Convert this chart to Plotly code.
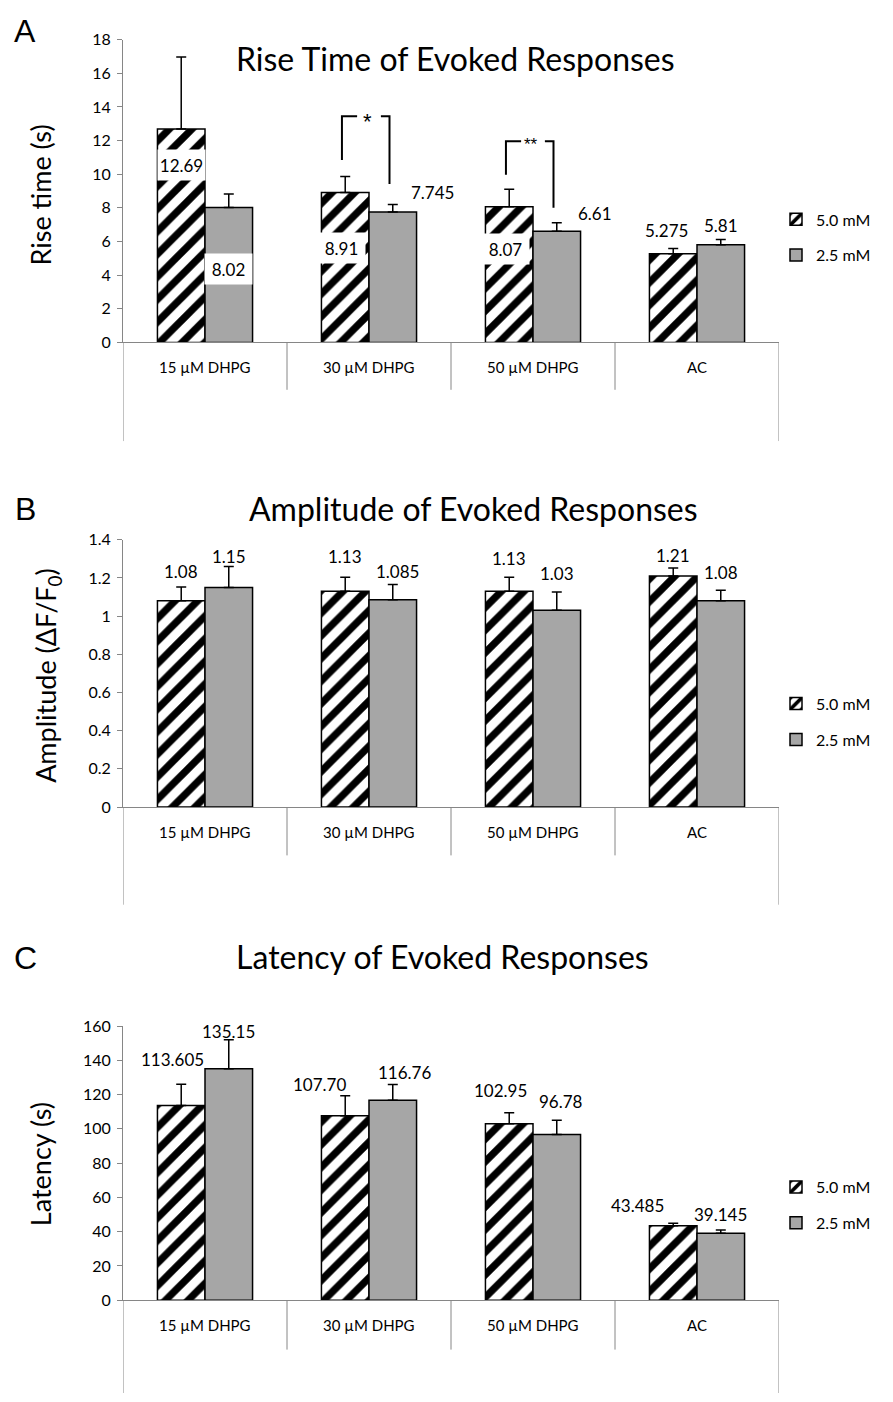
import plotly.graph_objects as go

# ---------------- data ----------------
categories = ["15 µM DHPG", "30 µM DHPG", "50 µM DHPG", "AC"]
series_names = ["5.0 mM", "2.5 mM"]

rise_50 = [12.69, 8.91, 8.07, 5.275]
rise_25 = [8.02, 7.745, 6.61, 5.81]
rise_err_50 = [4.28, 0.95, 1.03, 0.31]
rise_err_25 = [0.80, 0.45, 0.51, 0.31]
rise_text_50 = ["12.69", "8.91", "8.07", "5.275"]
rise_text_25 = ["8.02", "7.745", "6.61", "5.81"]

amp_50 = [1.08, 1.13, 1.13, 1.21]
amp_25 = [1.15, 1.085, 1.03, 1.08]
amp_err_50 = [0.072, 0.073, 0.073, 0.042]
amp_err_25 = [0.11, 0.08, 0.096, 0.056]
amp_text_50 = ["1.08", "1.13", "1.13", "1.21"]
amp_text_25 = ["1.15", "1.085", "1.03", "1.08"]

lat_50 = [113.605, 107.70, 102.95, 43.485]
lat_25 = [135.15, 116.76, 96.78, 39.145]
lat_err_50 = [12.5, 11.6, 6.5, 1.4]
lat_err_25 = [16.8, 9.2, 8.3, 1.9]
lat_text_50 = ["113.605", "107.70", "102.95", "43.485"]
lat_text_25 = ["135.15", "116.76", "96.78", "39.145"]

# significance markers on the rise-time panel: (category index, marker)
rise_sig = [(1, "*"), (2, "**")]

# ---------------- page geometry / style ----------------
W, H = 893, 1402
FONT = "Lato"
BAR_GRAY = "#A6A6A6"
AXIS_GRAY = "#868686"
BARGAP = 0.42
OFF = (1 - BARGAP) / 4          # bar centre offset from the category centre
X_LEFT, X_RIGHT = 123, 779


def fx(p):
    return p / W


def fy(p):
    return 1 - p / H


panels = [
    dict(letter="A", title="Rise Time of Evoked Responses", title_xy=(455, 49),
         ytitle="Rise time (s)", ytitle_xy=(40, 188),
         v50=rise_50, v25=rise_25, e50=rise_err_50, e25=rise_err_25,
         t50=rise_text_50, t25=rise_text_25,
         ymax=18, dtick=2, top=30, zero=337, box_mid=385, box_end=437,
         letter_y=21, legend_top=195,
         # label placement (px): shift relative to the bar top / bar centre
         dy50=[-36, -55, -42, 23], dy25=[-61, 20, 18, 19],
         dx50=[0, -4, -4, -7], dx25=[0, 40, 38, 0],
         boxed50=[True, True, True, False], boxed25=[True, False, False, False]),
    dict(letter="B", title="Amplitude of Evoked Responses", title_xy=(473, 505),
         ytitle="Amplitude (ΔF/F<sub>0</sub>)", ytitle_xy=(48, 675),
         v50=amp_50, v25=amp_25, e50=amp_err_50, e25=amp_err_25,
         t50=amp_text_50, t25=amp_text_25,
         ymax=1.4, dtick=0.2, top=537, zero=808, box_mid=857, box_end=907,
         letter_y=506, legend_top=686,
         dy50=[29, 35, 33, 21], dy25=[31, 28, 37, 28],
         dx50=[0, 0, 0, 0], dx25=[0, 5, 0, 0],
         boxed50=[False] * 4, boxed25=[False] * 4),
    dict(letter="C", title="Latency of Evoked Responses", title_xy=(442, 960),
         ytitle="Latency (s)", ytitle_xy=(40, 1170),
         v50=lat_50, v25=lat_25, e50=lat_err_50, e25=lat_err_25,
         t50=lat_text_50, t25=lat_text_25,
         ymax=160, dtick=20, top=1030, zero=1308, box_mid=1358, box_end=1402,
         letter_y=961, legend_top=1176,
         dy50=[46, 31, 33, 20], dy25=[37, 28, 33, 19],
         dx50=[-9, -26, -9, -36], dx25=[0, 12, 4, 0],
         boxed50=[False] * 4, boxed25=[False] * 4),
]

fig = go.Figure()
annotations = []
shapes = []
layout_axes = {}

for k, p in enumerate(panels):
    sfx = "" if k == 0 else str(k + 1)
    xref, yref = "x" + sfx, "y" + sfx
    legend_name = "legend" + sfx

    fig.add_trace(go.Bar(
        x=categories, y=p["v50"], name=series_names[0],
        xaxis=xref, yaxis=yref, legend=legend_name, legendgroup=f"a{k}",
        marker=dict(color="white", line=dict(color="black", width=1.5),
                    pattern=dict(shape="/", fgcolor="black", bgcolor="white",
                                 fgopacity=1, fillmode="replace",
                                 size=16, solidity=0.45)),
        error_y=dict(type="data", symmetric=False, array=p["e50"],
                     arrayminus=[0] * len(p["e50"]), color="black",
                     thickness=1.5, width=5),
        hoverinfo="skip",
    ))
    fig.add_trace(go.Bar(
        x=categories, y=p["v25"], name=series_names[1],
        xaxis=xref, yaxis=yref, legend=legend_name, legendgroup=f"b{k}",
        marker=dict(color=BAR_GRAY, line=dict(color="black", width=1.5)),
        error_y=dict(type="data", symmetric=False, array=p["e25"],
                     arrayminus=[0] * len(p["e25"]), color="black",
                     thickness=1.5, width=5),
        hoverinfo="skip",
    ))

    dom_x = [fx(X_LEFT), fx(X_RIGHT)]
    dom_y = [fy(p["zero"]), fy(p["top"])]
    layout_axes["xaxis" + sfx] = dict(
        domain=dom_x, range=[-0.5, len(categories) - 0.5], anchor=yref,
        showticklabels=False, ticks="", showline=True, linecolor=AXIS_GRAY,
        linewidth=1, showgrid=False, zeroline=False, fixedrange=True)
    layout_axes["yaxis" + sfx] = dict(
        domain=dom_y, range=[0, p["ymax"]], dtick=p["dtick"], anchor=xref,
        showline=True, linecolor=AXIS_GRAY, linewidth=1, ticks="outside",
        ticklen=5, tickcolor=AXIS_GRAY, ticklabelstandoff=3,
        tickfont=dict(family=FONT, size=16, color="black"),
        showgrid=False, zeroline=False, fixedrange=True)
    layout_axes[legend_name] = dict(
        x=fx(776), y=fy(p["legend_top"]), xanchor="left", yanchor="top",
        font=dict(family=FONT, size=16, color="black"), bgcolor="rgba(0,0,0,0)",
        tracegroupgap=12, traceorder="grouped", itemwidth=30)

    # category label box under the axis
    n = len(categories)
    for b in range(n + 1):
        outer = b in (0, n)
        shapes.append(dict(type="line", xref=xref, yref="paper",
                           x0=b - 0.5, x1=b - 0.5,
                           y0=fy(p["zero"]), y1=fy(p["box_end"] if outer else p["box_mid"]),
                           line=dict(color=AXIS_GRAY, width=1)))
    for i, c in enumerate(categories):
        annotations.append(dict(x=i, y=fy(p["zero"] + 25), xref=xref, yref="paper",
                                text=c, showarrow=False, yanchor="middle",
                                font=dict(family=FONT, size=15, color="black")))

    # value labels
    for vals, texts, dys, dxs, boxed, sign in (
            (p["v50"], p["t50"], p["dy50"], p["dx50"], p["boxed50"], -1),
            (p["v25"], p["t25"], p["dy25"], p["dx25"], p["boxed25"], 1)):
        for i, (v, t, dy, dx, bx) in enumerate(zip(vals, texts, dys, dxs, boxed)):
            ann = dict(x=i + sign * OFF, y=v, xref=xref, yref=yref, text=t,
                       showarrow=False, yanchor="middle", xshift=dx, yshift=dy,
                       font=dict(family=FONT, size=17, color="black"))
            if bx:
                ann.update(bgcolor="white", width=45, height=28, borderpad=1)
            annotations.append(ann)

    # titles and panel letters
    annotations.append(dict(x=fx(p["title_xy"][0]), y=fy(p["title_xy"][1]),
                            xref="paper", yref="paper", text=p["title"], showarrow=False,
                            xanchor="center", yanchor="middle",
                            font=dict(family=FONT, size=32, color="black")))
    annotations.append(dict(x=fx(p["ytitle_xy"][0]), y=fy(p["ytitle_xy"][1]),
                            xref="paper", yref="paper", text=p["ytitle"], showarrow=False,
                            textangle=-90, xanchor="center", yanchor="middle",
                            font=dict(family=FONT, size=27, color="black")))
    annotations.append(dict(x=fx(25), y=fy(p["letter_y"]), xref="paper", yref="paper",
                            text=p["letter"], showarrow=False, xanchor="center",
                            yanchor="middle",
                            font=dict(family="Liberation Sans", size=32, color="black")))

# significance brackets on the rise-time panel (data units)
bracket_geom = {1: dict(top=13.45, left_low=10.84, right_low=9.41),
                2: dict(top=11.96, left_low=9.96, right_low=8.0)}
for idx, mark in rise_sig:
    g = bracket_geom[idx]
    xl, xr = idx - OFF, idx + OFF
    span = xr - xl
    line = dict(color="black", width=2)
    shapes.append(dict(type="path", xref="x", yref="y", line=line,
                       path=f"M {xl - 0.02},{g['left_low']} L {xl - 0.02},{g['top']} "
                            f"L {xl + 0.25 * span},{g['top']}"))
    shapes.append(dict(type="path", xref="x", yref="y", line=line,
                       path=f"M {xr - 0.25 * span},{g['top']} L {xr - 0.02},{g['top']} "
                            f"L {xr - 0.02},{g['right_low']}"))
    annotations.append(dict(x=idx - 0.01, y=g["top"], xref="x", yref="y", text=mark,
                            showarrow=False, yanchor="middle",
                            yshift=-5 if mark == "*" else -3,
                            font=dict(family="Liberation Sans",
                                      size=22 if mark == "*" else 17, color="black")))

fig.update_layout(
    width=W, height=H, margin=dict(l=0, r=0, t=0, b=0),
    paper_bgcolor="white", plot_bgcolor="white",
    barmode="group", bargap=BARGAP, bargroupgap=0,
    showlegend=True, annotations=annotations, shapes=shapes,
    font=dict(family=FONT, color="black"),
    **layout_axes,
)

fig.write_html("out.html")
